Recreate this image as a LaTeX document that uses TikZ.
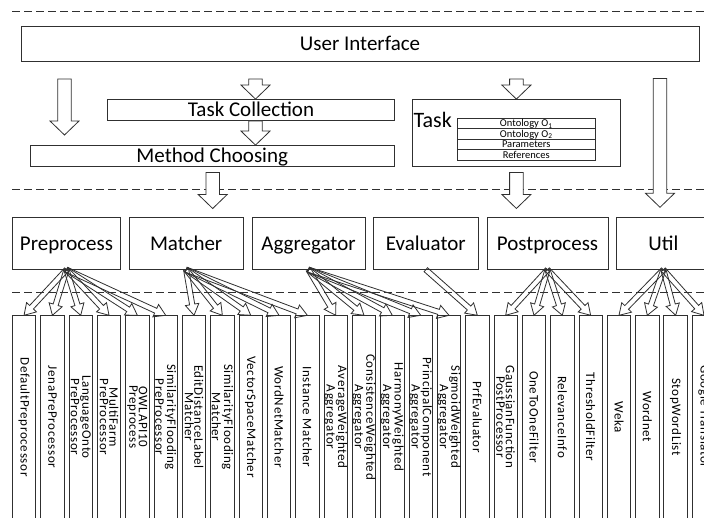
\documentclass[tikz,border=0pt]{standalone}
\usepackage{fontspec}
\setmainfont{Carlito}
\newfontfamily\itemfont[LetterSpace=5]{Carlito}
\usetikzlibrary{calc}
\definecolor{lc}{HTML}{303030}
\begin{document}
\begin{tikzpicture}[x=1pt,y=-1pt,
  box/.style={draw=lc, line width=0.8pt, fill=white, inner sep=0pt,
    font=\fontsize{21}{24}\selectfont, text height=13.5pt, text depth=0pt},
  rowbox/.style={draw=lc, line width=0.7pt, fill=white, inner sep=0pt,
    minimum width=138.5pt, minimum height=10.4pt},
  rowtext/.style={inner sep=0pt, font=\fontsize{10.5}{11}\selectfont, text height=6.8pt, text depth=0pt},
  itembox/.style={draw=lc, line width=0.8pt, fill=white, inner sep=0pt,
    minimum width=23.5pt, minimum height=204.6pt},
  itemtext/.style={rotate=-90, inner sep=0pt, align=center,
    font=\itemfont\fontsize{13}{9.5}\selectfont},
  dline/.style={draw=lc, line width=0.9pt, dash pattern=on 7.5pt off 4.5pt},
  blockarrow/.style n args={3}{draw=lc, line width=0.8pt, line join=miter, to path={
    let \p1=(\tikztostart), \p2=(\tikztotarget), \n1={atan2(\y2-\y1,\x2-\x1)} in
    ($(\p1)+(\n1+90:#1)$) -- ($(\p2)+(\n1+180:#3)+(\n1+90:#1)$)
    -- ($(\p2)+(\n1+180:#3)+(\n1+90:#2)$) -- (\p2)
    -- ($(\p2)+(\n1+180:#3)+(\n1-90:#2)$) -- ($(\p2)+(\n1+180:#3)+(\n1-90:#1)$)
    -- ($(\p1)+(\n1-90:#1)$) -- cycle}},
  bigarr/.style={blockarrow={6.8pt}{14.5pt}{14pt}, fill=white},
  smallarr/.style={blockarrow={2.6pt}{6.8pt}{11pt}},
]
\useasboundingbox (0,0) rectangle (704,518);
\clip (0,0) rectangle (704,518);
\fill[white] (0,0) rectangle (704,518);

% dashed separators
\draw[dline] (12,11) -- (704,11);
\draw[dline] (12,189.5) -- (704,189.5);
\draw[dline] (12,292.5) -- (704,292.5);

% top layer
\node[box, minimum width=678pt, minimum height=35pt] (ui) at (360,44) {User Interface};
\node[box, minimum width=287pt, minimum height=21pt] (tc) at (251,110) {Task Collection};
\node[box, minimum width=364.5pt, minimum height=20.5pt] (mc) at (212.25,155.75) {Method Choosing};
\node[box, minimum width=208.5pt, minimum height=66.5pt] (task) at (516.25,132.75) {};
\node[anchor=west, inner sep=0pt, font=\fontsize{22}{24}\selectfont, text height=14pt, text depth=0pt] (tasklbl) at (413.5,120.5) {Task};
\node[rowbox] (r1) at (526.25,123.5) {};
\node[rowbox] (r2) at (526.25,133.9) {};
\node[rowbox] (r3) at (526.25,144.3) {};
\node[rowbox] (r4) at (526.25,154.7) {};
\node[rowtext] (r1t) at (r1.center) {Ontology O\textsubscript{1}};
\node[rowtext] (r2t) at (r2.center) {Ontology O\textsubscript{2}};
\node[rowtext] (r3t) at (r3.center) {Parameters};
\node[rowtext] (r4t) at (r4.center) {References};

% block arrows of the top layer
\coordinate (a1s) at (64.5,79);   \coordinate (a1e) at (64.5,135);
\coordinate (a2s) at (255.5,79);
\coordinate (a4s) at (212.7,172.5); \coordinate (a4e) at (212.7,208.5);
\coordinate (a5s) at (516.4,79);
\coordinate (a6s) at (516.4,172.5); \coordinate (a6e) at (516.4,208.5);
\coordinate (a7s) at (660,78.5);  \coordinate (a7e) at (660,207.3);
\draw[bigarr] (a1s) to (a1e);
\draw[bigarr] (a2s) to (a2s |- tc.north);
\draw[bigarr] (a2s |- tc.south) to (a2s |- mc.north);
\draw[bigarr] (a4s) to (a4e);
\draw[bigarr] (a5s) to (a5s |- task.north);
\draw[bigarr] (a6s) to (a6e);
\draw[bigarr] (a7s) to (a7e);

% module layer
\node[box, minimum width=108.4pt, minimum height=52pt] (pre) at (66.5,243.3) {Preprocess};
\node[box, minimum width=113.7pt, minimum height=52pt] (mat) at (186.15,243.3) {Matcher};
\node[box, minimum width=113pt, minimum height=52pt] (agg) at (308.5,243.3) {Aggregator};
\node[box, minimum width=105pt, minimum height=52pt] (eva) at (425.8,243.3) {Evaluator};
\node[box, minimum width=121pt, minimum height=52pt] (pos) at (547.5,243.3) {Postprocess};
\node[box, minimum width=93.3pt, minimum height=52pt] (uti) at (663.35,243.3) {Util};

% implementation layer
\foreach \lab [count=\i from 0] in {
  DefaultPreprocessor, JenaPreProcessor, {LanguageOnto\\PreProcessor},
  {MultiFarm\\PreProcessor}, {OWLAPI10\\Preprocess}, {SimilarityFlooding\\PreProcessor},
  {EditDistanceLabel\\Matcher}, {SimilarityFlooding\\Matcher}, VectorSpaceMatcher,
  WordNetMatcher, Instance Matcher, {AverageWeighted\\Aggregator},
  {ConsistenceWeighted\\Aggregator}, {HarmonyWeighted\\Aggregator},
  {PrincipalComponent\\Aggregator}, {SigmoidWeighted\\Aggregator}, PrfEvaluator,
  {GaussianFunction\\PostProcessor}, OneToOneFilter, RelevanceInfo, ThresholdFilter,
  Weka, Wordnet, StopWordList, Google Translator}{
  \node[itembox] (b\i) at ({24.05+28.33*\i},418) {};
  \node[itemtext] (t\i) at ({24.05+28.33*\i},417) {\lab};
}

\foreach \g/\i in {pre/0,pre/1,pre/2,pre/3,pre/4,pre/5,
  mat/6,mat/7,mat/8,mat/9,mat/10,
  agg/11,agg/12,agg/13,agg/14,agg/15,
  eva/16,
  pos/17,pos/18,pos/19,pos/20,
  uti/21,uti/22,uti/23,uti/24}{
  \draw[smallarr] (\g.south) to (b\i.north);
}
\end{tikzpicture}
\end{document}
